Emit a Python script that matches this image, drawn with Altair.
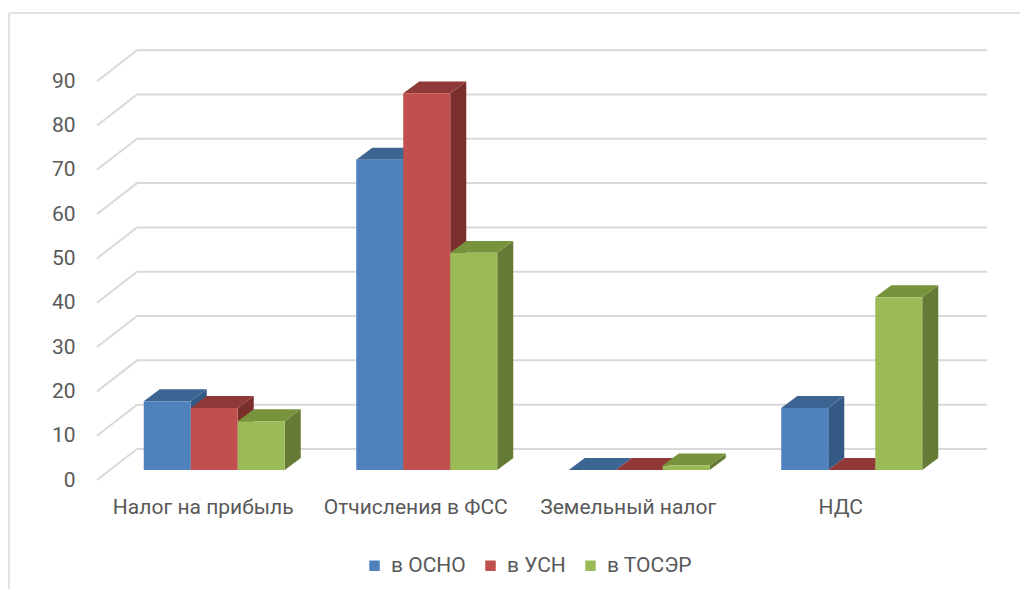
import altair as alt
import pandas as pd

# ---- data ----
categories = ["Налог на прибыль", "Отчисления в ФСС", "Земельный налог", "НДС"]
series = ["в ОСНО", "в УСН", "в ТОСЭР"]
osno = [15.5, 70, 0, 14]
usn = [14, 85, 0, 0]
toser = [11, 49, 1, 39]
y_ticks = [0, 10, 20, 30, 40, 50, 60, 70, 80, 90]

front_colors = ["#4f81bd", "#c0504d", "#9bbb59"]
top_colors = ["#3d6594", "#8f3a38", "#77933c"]
side_colors = ["#345985", "#7b2f2d", "#657a35"]

# ---- geometry (3D oblique look) ----
W, H = 890, 440
Y_MAX = 99.3
WALL_DX, WALL_DY = 40, 7.0
BAND = (W - WALL_DX) / len(categories)
BAR_W, BAR_OFF = 47, 11
BASE = 2.26
DX, DY = 16, 2.7
FONT = "Roboto"
FS = 21
TXT = "#595959"
GRID = "#d9d9d9"

values = [osno, usn, toser]
front_rows, cap_rows, side_rows = [], [], []
for i, cat in enumerate(categories):
    g0 = BAND * i + BAND / 2 + BAR_OFF - 1.5 * BAR_W
    for j, s in enumerate(series):
        v = values[j][i]
        x0 = g0 + BAR_W * j
        x1 = x0 + BAR_W
        top = BASE + v
        key = f"{i}-{j}"
        front_rows.append(dict(x0=x0, x1=x1, yb=BASE, yt=top, series=s, cat=cat, v=v))
        cap_rows += [
            dict(key=key, y=top, xa=x0, xb=x1, c=top_colors[j]),
            dict(key=key, y=top + DY, xa=x0 + DX, xb=x1 + DX, c=top_colors[j]),
        ]
        side_rows += [
            dict(key=key, x=x1, ylo=BASE, yhi=top, c=side_colors[j]),
            dict(key=key, x=x1 + DX, ylo=BASE + DY, yhi=top + DY, c=side_colors[j]),
        ]

front_df = pd.DataFrame(front_rows)
cap_df = pd.DataFrame(cap_rows)
side_df = pd.DataFrame(side_rows)
grid_df = pd.DataFrame(dict(v=y_ticks))
grid_df["vb"] = grid_df["v"] + WALL_DY
grid_df["x0"] = 0
grid_df["xw"] = WALL_DX
grid_df["xe"] = W
cat_df = pd.DataFrame(dict(cat=categories, xc=[BAND * i + BAND / 2 for i in range(len(categories))]))

xs = alt.Scale(domain=[0, W], nice=False, zero=False)
ys = alt.Scale(domain=[0, Y_MAX], nice=False, zero=False)
yaxis = alt.Axis(values=y_ticks, grid=False, ticks=False, domain=False,
                 labelFont=FONT, labelFontSize=FS, labelColor=TXT,
                 labelPadding=22, title=None)


def X(f):
    return alt.X(f, scale=xs, axis=None)


def Y(f):
    return alt.Y(f, scale=ys, axis=yaxis)


back_lines = alt.Chart(grid_df).mark_rule(color=GRID, strokeWidth=2).encode(
    x=X("xw:Q"), x2="xe:Q", y=Y("vb:Q"),
)
diag_lines = alt.Chart(grid_df).mark_rule(color=GRID, strokeWidth=2).encode(
    x=X("x0:Q"), y=Y("v:Q"), x2="xw:Q", y2="vb:Q",
)
sides = alt.Chart(side_df).mark_area(orient="vertical", opacity=1).encode(
    x=X("x:Q"), y=Y("ylo:Q"), y2="yhi:Q",
    detail="key:N",
    color=alt.Color("c:N", scale=None, legend=None),
)
caps = alt.Chart(cap_df).mark_area(orient="horizontal", opacity=1).encode(
    y=Y("y:Q"), x=X("xa:Q"), x2="xb:Q",
    detail="key:N",
    color=alt.Color("c:N", scale=None, legend=None),
)
fronts = alt.Chart(front_df).mark_rect().encode(
    x=X("x0:Q"), x2="x1:Q", y=Y("yb:Q"), y2="yt:Q",
    color=alt.Color("series:N",
                    scale=alt.Scale(domain=series, range=front_colors),
                    sort=series,
                    legend=alt.Legend(orient="none", legendX=267, legendY=515,
                                      direction="horizontal", title=None,
                                      symbolType="square", symbolSize=110,
                                      symbolStrokeWidth=0, labelFont=FONT,
                                      labelFontSize=FS, labelColor=TXT,
                                      labelOffset=6, columnPadding=14)),
)
cat_text = alt.Chart(cat_df).mark_text(font=FONT, fontSize=FS, color=TXT, baseline="middle").encode(
    x=X("xc:Q"),
    y=alt.value(468),
    text="cat:N",
)
frame_top = alt.Chart(grid_df.head(1)).mark_rule(color=GRID, strokeWidth=1.5).encode(
    x=alt.value(-88), x2=alt.value(930), y=alt.value(-27)
)
frame_left = alt.Chart(grid_df.head(1)).mark_rule(color=GRID, strokeWidth=1.5).encode(
    x=alt.value(-88), y=alt.value(-27), y2=alt.value(560)
)

chart = alt.layer(
    frame_top, frame_left, back_lines, diag_lines, sides, caps, fronts, cat_text
).resolve_scale(color="independent").properties(
    width=W, height=H,
    autosize=alt.AutoSizeParams(type="none"),
    padding={"left": 89, "top": 32, "right": 33, "bottom": 109},
).configure_view(stroke=None)

chart.save("out.html", embed_options={"renderer": "svg", "actions": False})
